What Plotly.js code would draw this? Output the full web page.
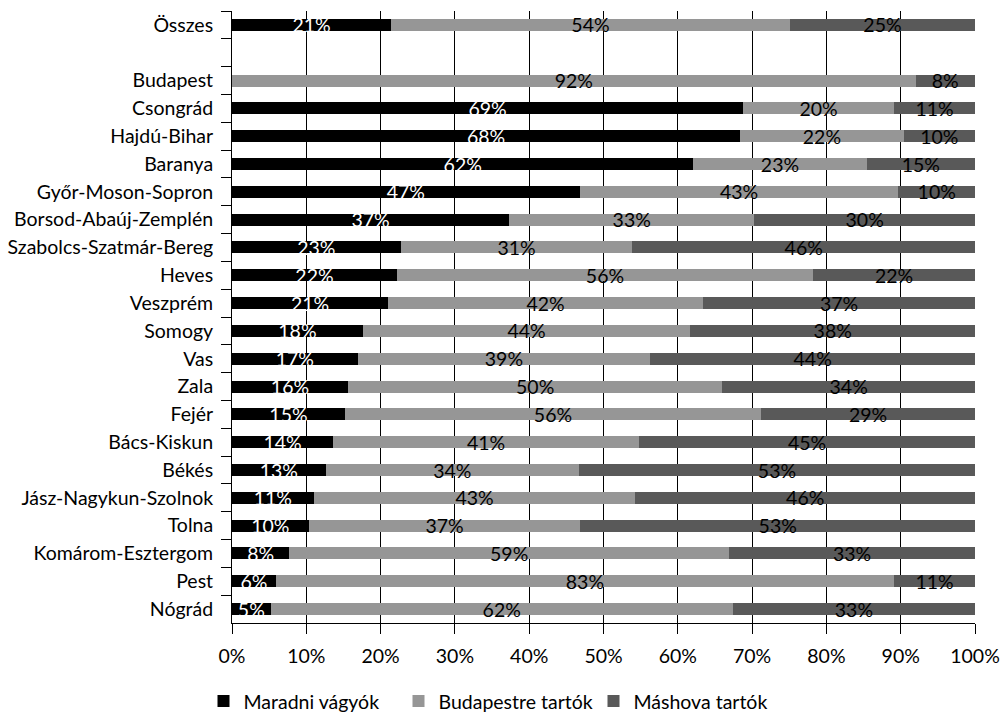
<!DOCTYPE html>
<html>
<head>
<meta charset="utf-8">
<script src="https://cdn.plot.ly/plotly-3.0.1.min.js"></script>
<style>html,body{margin:0;padding:0;background:#fff;overflow:hidden;}</style>
</head>
<body>
<div id="chart"></div>
<script>
const categories = ['Összes',' ','Budapest','Csongrád','Hajdú-Bihar','Baranya','Győr-Moson-Sopron','Borsod-Abaúj-Zemplén','Szabolcs-Szatmár-Bereg','Heves','Veszprém','Somogy','Vas','Zala','Fejér','Bács-Kiskun','Békés','Jász-Nagykun-Szolnok','Tolna','Komárom-Esztergom','Pest','Nógrád'];
const maradni = [21.4,null,null,68.8,68.4,62.1,46.8,37.3,22.7,22.2,21.0,17.6,16.9,15.6,15.2,13.6,12.6,11.0,10.3,7.7,5.9,5.2];
const budapestre = [53.7,null,92.0,20.3,22.0,23.3,42.9,33.0,31.2,56.0,42.4,44.1,39.4,50.4,56.0,41.2,34.1,43.3,36.6,59.2,83.2,62.2];
const mashova = [24.9,null,8.0,10.9,9.6,14.6,10.3,29.7,46.1,21.8,36.6,38.3,43.7,34.0,28.8,45.2,53.3,45.7,53.1,33.1,10.9,32.6];
const seriesNames = ['Maradni vágyók','Budapestre tartók','Máshova tartók'];
const xTickVals = [0,10,20,30,40,50,60,70,80,90,100];
const xTickText = xTickVals.map(v => v + '%');

const FONT = 'Lato, "Open Sans", sans-serif';
function mk(vals, name, color, txtColor){
  return {
    type:'bar', orientation:'h', y:categories, x:vals, name:name,
    marker:{color:color, line:{width:0}},
    texttemplate:'%{x:.0f}%', textposition:'inside', insidetextanchor:'middle',
    constraintext:'none', textangle:0,
    textfont:{family:FONT, size:19.5, color:txtColor},
    hoverinfo:'skip'
  };
}
const data = [
  mk(maradni, seriesNames[0], '#000000', '#ffffff'),
  mk(budapestre, seriesNames[1], '#969696', '#000000'),
  mk(mashova, seriesNames[2], '#595959', '#000000')
];
const layout = {
  width:1000, height:726,
  margin:{l:232, r:25, t:11, b:103},
  barmode:'stack', bargap:0.57,
  paper_bgcolor:'#ffffff', plot_bgcolor:'rgba(0,0,0,0)',
  font:{family:FONT, size:19.5, color:'#000'},
  showlegend:true,
  legend:{orientation:'h', xref:'container', yref:'container', x:0.496, xanchor:'center', y:0.007, yanchor:'bottom',
          font:{family:FONT, size:19.5, color:'#000'}, entrywidth:150, traceorder:'normal'},
  xaxis:{range:[0,100], tickmode:'array', tickvals:xTickVals, ticktext:xTickText, tickangle:0, automargin:false,
         showgrid:true, gridcolor:'#000000', gridwidth:1,
         showline:true, linecolor:'#000', linewidth:1, ticks:'outside', ticklen:10, tickcolor:'#000',
         zeroline:false, tickfont:{family:FONT, size:19.5, color:'#000'}, ticklabelstandoff:6},
  yaxis:{type:'category', categoryorder:'array', categoryarray:categories, autorange:'reversed', automargin:false,
         showgrid:false, showline:true, linecolor:'#000', linewidth:1, ticks:'outside', tickson:'boundaries',
         ticklen:10, tickcolor:'#000', tickfont:{family:FONT, size:19.5, color:'#000'}, ticklabelstandoff:14}
};
Plotly.newPlot('chart', data, layout, {displayModeBar:false, staticPlot:true});
</script>
</body>
</html>
